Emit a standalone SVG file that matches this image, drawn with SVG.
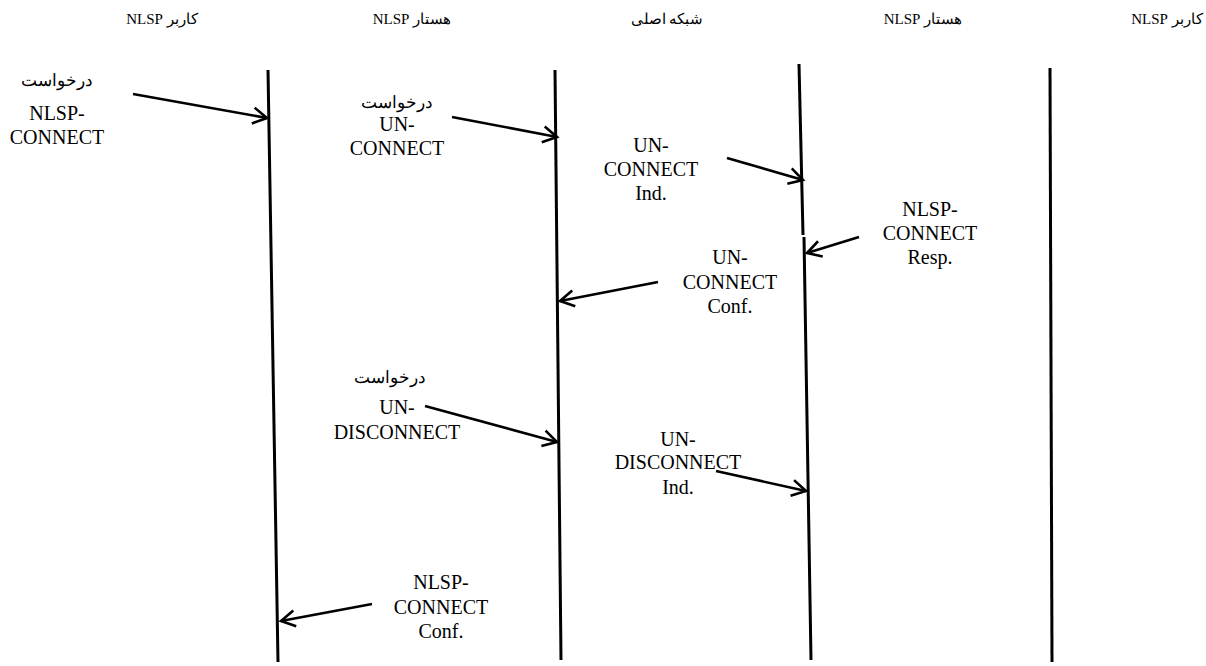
<svg xmlns="http://www.w3.org/2000/svg" width="1206" height="666" viewBox="0 0 1206 666">
<style>
.hdr{font-size:15px;fill:#000;text-anchor:middle;direction:rtl;unicode-bidi:embed}
.lbl{font-size:20px;fill:#000;text-anchor:middle}
.fa{font-size:17px;fill:#000;text-anchor:middle;direction:rtl;unicode-bidi:embed}
.life{stroke:#000;stroke-width:3;fill:none}
.msg{stroke:#000;stroke-width:2.6;fill:none;marker-end:url(#arr)}
</style>
<defs>
<marker id="arr" markerUnits="userSpaceOnUse" markerWidth="20" markerHeight="20" refX="15" refY="8" orient="auto" overflow="visible">
<path d="M1,0 L15,8 L1,16" fill="none" stroke="#000" stroke-width="2.6"/>
</marker>
</defs>
<rect width="1206" height="666" fill="#fff"/>
<g id="headers" font-family="Liberation Serif, DejaVu Serif, serif">
<text class="hdr" x="162" y="24">کاربر NLSP</text>
<text class="hdr" x="412" y="24">هستار NLSP</text>
<text class="hdr" x="667" y="24">شبکه اصلی</text>
<text class="hdr" x="923" y="24">هستار NLSP</text>
<text class="hdr" x="1167" y="24">کاربر NLSP</text>
</g>
<g id="lifeline-user-left"><path class="life" d="M268,70 L278,662"/></g>
<g id="lifeline-entity-left"><path class="life" d="M555,70 L561,660"/></g>
<g id="lifeline-entity-right"><path class="life" d="M799,64 L803,235"/><path class="life" d="M804,237 L811,660"/></g>
<g id="lifeline-user-right"><path class="life" d="M1050,68 L1052,662"/></g>
<g id="connectors">
<path class="msg" d="M133,94 L267,118"/>
<path class="msg" d="M452,117 L557,137"/>
<path class="msg" d="M727,158 L803,180"/>
<path class="msg" d="M859,237 L807,253"/>
<path class="msg" d="M658,282 L560,301"/>
<path class="msg" d="M425,406 L557,442"/>
<path class="msg" d="M716,471 L806,491"/>
<path class="msg" d="M372,604 L281,621"/>
</g>
<g id="labels" font-family="Liberation Serif, DejaVu Serif, serif">
<g id="label-nlsp-connect-req">
<text class="fa" x="57" y="86">درخواست</text>
<text class="lbl" x="57" y="120">NLSP-</text>
<text class="lbl" x="57" y="144">CONNECT</text>
</g>
<g id="label-un-connect-req">
<text class="fa" x="397" y="108">درخواست</text>
<text class="lbl" x="397" y="131">UN-</text>
<text class="lbl" x="397" y="155">CONNECT</text>
</g>
<g id="label-un-connect-ind">
<text class="lbl" x="651" y="152">UN-</text>
<text class="lbl" x="651" y="176">CONNECT</text>
<text class="lbl" x="651" y="200">Ind.</text>
</g>
<g id="label-nlsp-connect-resp">
<text class="lbl" x="930" y="216">NLSP-</text>
<text class="lbl" x="930" y="240">CONNECT</text>
<text class="lbl" x="930" y="264">Resp.</text>
</g>
<g id="label-un-connect-conf">
<text class="lbl" x="730" y="264">UN-</text>
<text class="lbl" x="730" y="289">CONNECT</text>
<text class="lbl" x="730" y="313">Conf.</text>
</g>
<g id="label-un-disconnect-req">
<text class="fa" x="390" y="383">درخواست</text>
<text class="lbl" x="397" y="414">UN-</text>
<text class="lbl" x="397" y="439">DISCONNECT</text>
</g>
<g id="label-un-disconnect-ind">
<text class="lbl" x="678" y="446">UN-</text>
<text class="lbl" x="678" y="469">DISCONNECT</text>
<text class="lbl" x="678" y="494">Ind.</text>
</g>
<g id="label-nlsp-connect-conf">
<text class="lbl" x="441" y="589">NLSP-</text>
<text class="lbl" x="441" y="614">CONNECT</text>
<text class="lbl" x="441" y="638">Conf.</text>
</g>
</g>
</svg>
